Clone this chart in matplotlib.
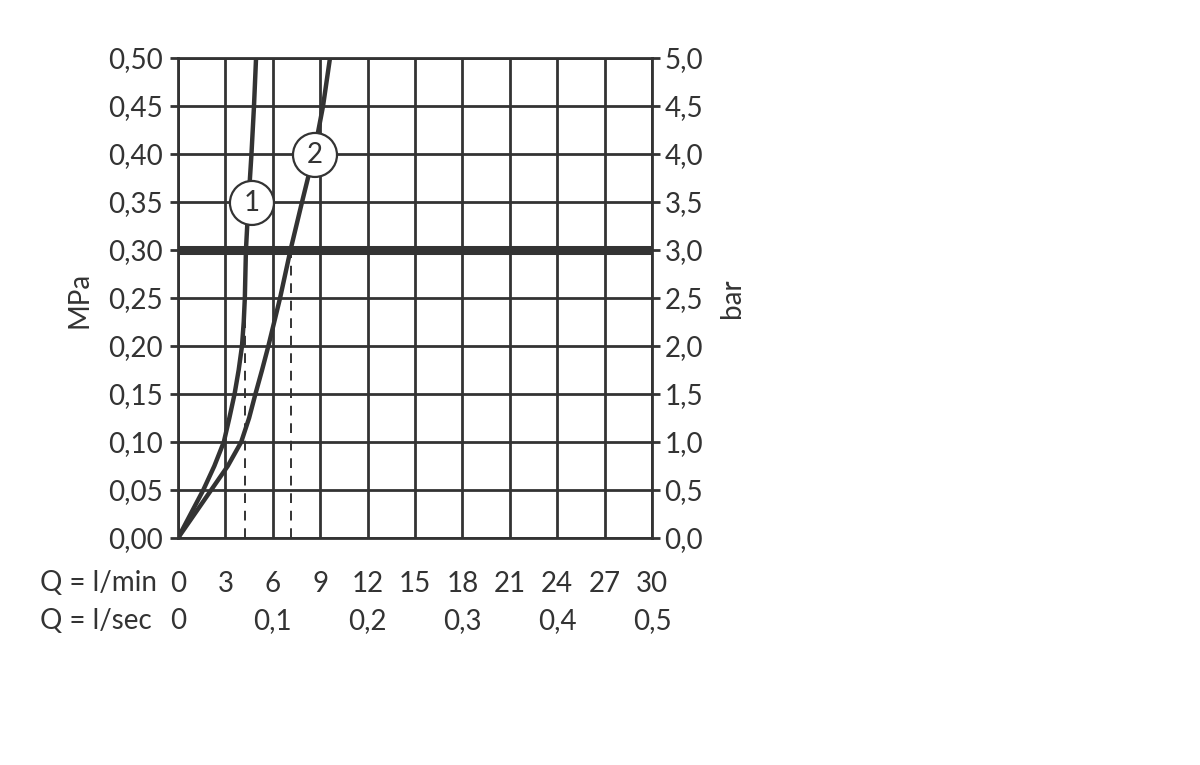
import matplotlib
matplotlib.use("Agg")
import matplotlib.pyplot as plt
from matplotlib.patches import Ellipse

plt.rcParams['font.family'] = ['Lato', 'DejaVu Sans']

# Durchfluss (l/min) gegen Druck (MPa)
p1 = [0, 0.025, 0.05, 0.075, 0.10, 0.125, 0.15, 0.175, 0.20, 0.225, 0.25, 0.30, 0.35, 0.40, 0.45, 0.50]
q1 = [0, 0.8, 1.6, 2.3, 2.9, 3.25, 3.58, 3.84, 4.05, 4.16, 4.23, 4.30, 4.46, 4.65, 4.81, 4.94]
p2 = [0, 0.025, 0.05, 0.075, 0.10, 0.125, 0.15, 0.175, 0.20, 0.25, 0.30, 0.35, 0.40, 0.45, 0.50]
q2 = [0, 1.05, 2.1, 3.15, 4.0, 4.5, 4.9, 5.32, 5.72, 6.46, 7.12, 7.85, 8.6, 9.18, 9.62]

# Ablesung bei 0,3 MPa
q_read = [4.26, 7.13]
p_line = 0.30

# Nummernkreise (Q, P)
marks = ['1', '2']
mark_q = [4.68, 8.67]
mark_p = [0.349, 0.399]

xticks_min = [0, 3, 6, 9, 12, 15, 18, 21, 24, 27, 30]
yticks_mpa = [0, 0.05, 0.10, 0.15, 0.20, 0.25, 0.30, 0.35, 0.40, 0.45, 0.50]
sec_pos = [0, 6, 12, 18, 24, 30]
sec_labels = ['0', '0,1', '0,2', '0,3', '0,4', '0,5']

col = '#333333'
fs = 20

fig = plt.figure(figsize=(12, 7.65), dpi=100)
ax = fig.add_axes([178/1200, 1-538/765, 474/1200, 480/765])

ax.set_xlim(0, 30)
ax.set_ylim(0, 0.5)
ax.set_xticks(xticks_min)
ax.set_xticklabels([str(v) for v in xticks_min])
ax.set_yticks(yticks_mpa)
ax.set_yticklabels([('%.2f' % v).replace('.', ',') for v in yticks_mpa])
ax.grid(True, color=col, linewidth=2.0)
ax.set_axisbelow(True)
for s in ax.spines.values():
    s.set_color(col)
    s.set_linewidth(2.0)
ax.tick_params(axis='y', direction='out', length=6, width=2, color=col,
               labelsize=fs, labelcolor=col, pad=5)
ax.tick_params(axis='x', length=0, labelsize=fs, labelcolor=col, pad=24)

ax.axhline(p_line, color=col, linewidth=6.5, zorder=3)

for q in q_read:
    ax.plot([q, q], [0, p_line], color=col, linewidth=1.4, linestyle=(0, (5, 4)), zorder=2)

ax.plot(q1, p1, color=col, linewidth=3.2, zorder=4, solid_joinstyle='round')
ax.plot(q2, p2, color=col, linewidth=3.2, zorder=4, solid_joinstyle='round')

for m, q, p in zip(marks, mark_q, mark_p):
    ax.add_patch(Ellipse((q, p), width=44*30/474, height=44*0.5/480,
                         facecolor='white', edgecolor=col, linewidth=1.6, zorder=5))
    ax.text(q, p, m, ha='center', va='center', fontsize=20, color=col, zorder=6)

ax.set_ylabel('MPa', fontsize=fs, color=col)
ax.yaxis.set_label_coords(-0.181, 0.496)

ax2 = ax.twinx()
ax2.set_ylim(0, 5)
ax2.set_yticks([v * 10 for v in yticks_mpa])
ax2.set_yticklabels([('%.1f' % (v * 10)).replace('.', ',') for v in yticks_mpa])
ax2.tick_params(axis='y', direction='out', length=6, width=2, color=col,
                labelsize=fs, labelcolor=col, pad=3)
for s in ax2.spines.values():
    s.set_visible(False)
ax2.set_ylabel('bar', fontsize=fs, color=col, rotation=90)
ax2.yaxis.set_label_coords(1.142, 0.5)

trans = ax.get_xaxis_transform()
ax.text(-0.291, -0.094, 'Q = l/min', transform=ax.transAxes, ha='left', va='center',
        fontsize=fs, color=col)
ax.text(-0.291, -0.172, 'Q = l/sec', transform=ax.transAxes, ha='left', va='center',
        fontsize=fs, color=col)
for q, lab in zip(sec_pos, sec_labels):
    ax.text(q, -0.172, lab, transform=trans, ha='center', va='center', fontsize=fs, color=col)

fig.savefig('out.png', dpi=100)
